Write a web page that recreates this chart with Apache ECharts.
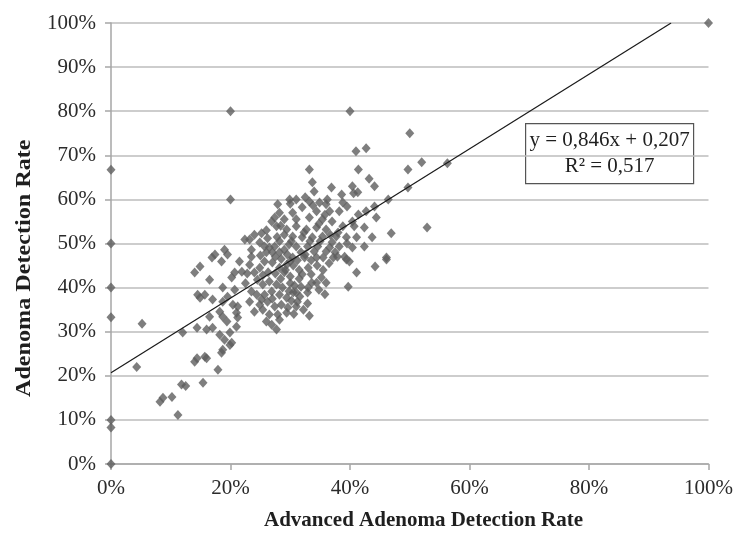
<!DOCTYPE html>
<html>
<head>
<meta charset="utf-8">
<title>ADR vs AADR</title>
<script src="https://cdn.jsdelivr.net/npm/echarts@6/dist/echarts.min.js"></script>
<style>
  html, body { margin: 0; background: #fff; }
  #chart { width: 736px; height: 545px; }
</style>
</head>
<body>
<div id="chart"></div>
<script>
// [advanced adenoma detection rate %, adenoma detection rate %]
const zeroColumn = [[0, 66.7], [0, 50], [0, 40], [0, 33.3], [0, 10], [0, 8.3], [0, 0]]

const outliers = [
  [20, 80], [40, 80], [20, 60], [100, 100], [50, 75], [5.2, 31.8], [4.3, 22],
  [56.3, 68.2], [52, 68.4], [49.7, 66.8], [49.7, 62.7], [52.9, 53.6]
]

const upperCluster = [
  [33.2, 66.8], [41.4, 66.8], [41, 70.9], [42.7, 71.6], [33.7, 63.9], [43.2, 64.7],
  [44.1, 63], [40.4, 63], [36.9, 62.7], [40.6, 61.4], [41.3, 61.6], [34, 61.8],
  [29.9, 60], [31, 60], [46.4, 60], [38.6, 61.1], [38.8, 59.3], [39.5, 58.4],
  [36.2, 60], [34.9, 59.3], [33.2, 59.5], [44.1, 58.4], [42.7, 57.3], [41.4, 56.6],
  [44.4, 55.9], [36, 58.9], [32, 58.2], [34.4, 57.3], [36.6, 57.3], [38.2, 57.3],
  [30.4, 57], [31, 55.5], [33.2, 55.9], [35.4, 55.5], [37, 55], [40.4, 55],
  [27.9, 58.9], [28.2, 57], [27.4, 55.9], [26.9, 55], [35.8, 56.5], [33.8, 58.6],
  [32.5, 60.5], [30, 59], [29, 55.5]
]

const midCluster = [
  [31, 53.9], [32.7, 53.2], [34.4, 53.6], [36, 53.2], [38.8, 53.9], [40.7, 53.9],
  [42.4, 53.6], [46.9, 52.3], [30.4, 51.6], [32, 51.4], [33.7, 51.4], [35.4, 51.6],
  [37.7, 51.6], [39.4, 51.4], [41.1, 51.4], [43.7, 51.4], [31, 49.3], [32.9, 49.3],
  [34.6, 49.3], [36.6, 49.1], [38.2, 49.3], [40.4, 49.1], [42.4, 49.3], [39.1, 47],
  [37.2, 46.8], [34.4, 46.8], [32.4, 46.8], [30.4, 46.8], [46.1, 46.8], [27.7, 53.9],
  [29.4, 53.2], [29, 52], [22.4, 50.9], [23.2, 50.9], [24.9, 50.2], [23.5, 48.6],
  [25.7, 49.3], [26.5, 49.1], [27.4, 49.3], [28.2, 50.5], [26, 48], [27, 48],
  [28.2, 48], [29, 48.6], [19, 48.6], [19.5, 47.5], [17.4, 47.5], [16.9, 46.8],
  [18.5, 45.9], [27.5, 47], [28.5, 46.5], [30, 46], [31.2, 46.2], [33.5, 46.2],
  [35.5, 46.8], [36, 48.2], [34, 48.2], [31.8, 48], [29.8, 49.8], [27.8, 51.5],
  [26.2, 51.2], [25.2, 52.3], [30.2, 50.5], [33.3, 50.5], [35, 50.5], [37, 50.3],
  [32.3, 52.5], [34.8, 54.5], [38, 52.5], [36.7, 52], [39.5, 50], [37.5, 48],
  [28.4, 54], [26, 53], [24, 52], [23.5, 47], [25, 47.3]
]

const rightCluster = [
  [46.1, 46.4], [44.2, 44.8], [41.1, 43.4], [39.9, 45.9], [39.4, 46.4], [37.9, 47],
  [36, 41.1], [34.4, 41.1], [33.6, 41.1], [35.2, 42.3], [39.7, 40.2], [32.9, 38.9],
  [31.6, 38], [31, 38.9], [31.2, 36.8], [32.9, 36.4], [31, 35.7], [33.2, 33.6],
  [30.5, 38.9], [30.7, 40.5], [32, 43], [29.5, 47.5], [30.5, 45], [31.5, 44],
  [33, 44.5], [34.5, 45], [35.5, 44], [36.5, 45.5], [30, 42.5], [31.5, 42],
  [33.5, 43], [29, 43.5], [32.5, 47.5], [29.2, 44], [28.4, 42], [30, 41],
  [31.8, 40.2], [33, 40], [34.8, 39.5], [35.8, 38.5], [29.8, 39.2], [30.2, 37],
  [32.2, 35], [30.6, 34]
]

const lowerCluster = [
  [14.9, 44.8], [14, 43.4], [16.5, 41.8], [20.2, 42.3], [20.7, 43.4], [21.9, 43.6],
  [21.5, 45.9], [23.2, 45.2], [24, 43.4], [24.9, 44.5], [25.7, 45.9], [27, 45.7],
  [28.2, 44.5], [29.4, 45.2], [24.5, 41.8], [25.4, 40.7], [26.5, 41.4], [27.7, 40.7],
  [28.7, 40], [23.5, 39.1], [24.4, 38.4], [25.7, 38.4], [26.9, 39.1], [28.2, 38.4],
  [29.4, 37.7], [23.2, 36.8], [24.9, 36.1], [26.2, 36.8], [27.4, 35.7], [28.5, 36.1],
  [29.6, 35.5], [24, 34.5], [25.4, 35], [26.5, 33.9], [27.9, 33.9], [29.4, 34.3],
  [26, 32.3], [26.9, 31.6], [28.2, 32.7], [27.7, 30.5], [14.5, 38.4], [14.9, 37.7],
  [15.7, 38.4], [17, 37.3], [18.7, 36.8], [19.5, 37.9], [18.7, 40], [20.7, 39.5],
  [20.4, 36.1], [21.2, 35.7], [16.5, 33.4], [18.2, 34.5], [18.7, 33.4], [19.4, 32.3],
  [21, 34.3], [21.2, 33.2], [12, 29.8], [14.4, 30.9], [16, 30.5], [17, 30.9],
  [18.2, 29.3], [19.9, 29.8], [21, 31.1], [19, 28.2], [20.2, 27.5], [27.5, 43.2],
  [26.3, 43.5], [25.4, 42.8], [27, 37.5], [25.2, 37.3], [22.5, 41], [22.8, 43.2]
]

const lowTail = [
  [14, 23.2], [14.4, 24], [15.7, 24.3], [16, 24], [17.9, 21.4], [18.5, 25.2],
  [18.7, 25.9], [19.9, 27], [11.8, 18], [12.5, 17.7], [15.4, 18.4], [8.2, 14.1],
  [8.7, 15], [10.2, 15.2], [11.2, 11.1]
]

const slope = 0.846
const intercept = 0.207
const rSquared = 0.517

const xTicks = [0, 20, 40, 60, 80, 100]

const points = [].concat(zeroColumn, outliers, upperCluster, midCluster, rightCluster, lowerCluster, lowTail)

// trend line runs from x = 0 until it reaches the top of the plot
const trendEndX = (1 - intercept) / slope * 100
const trendLine = [[0, intercept * 100], [trendEndX, 100]]

const fmt = (v, d) => v.toFixed(d).replace('.', ',')
const serif = '"Liberation Serif", "DejaVu Serif", serif'

function renderChart() {
  const chart = echarts.init(document.getElementById('chart'), null, { renderer: 'canvas' })
  const option = {
    backgroundColor: '#fff',
    animation: false,
    grid: { left: 111, right: 27, top: 23, bottom: 81 },
    xAxis: {
      type: 'value',
      min: 0,
      max: 100,
      interval: 20,
      axisLine: { lineStyle: { color: '#a6a6a6', width: 1.5 } },
      axisTick: { show: true, length: 6, lineStyle: { color: '#a6a6a6', width: 1.5 } },
      axisLabel: {
        formatter: (v) => (xTicks.includes(v) ? v + '%' : ''),
        color: '#2b2b2b',
        fontFamily: serif,
        fontSize: 21,
        margin: 14
      },
      splitLine: { show: false }
    },
    yAxis: {
      type: 'value',
      min: 0,
      max: 100,
      interval: 10,
      axisLine: { show: true, lineStyle: { color: '#a6a6a6', width: 1.5 } },
      axisTick: { show: true, length: 6, lineStyle: { color: '#a6a6a6', width: 1.5 } },
      axisLabel: {
        formatter: '{value}%',
        color: '#2b2b2b',
        fontFamily: serif,
        fontSize: 21,
        margin: 15
      },
      splitLine: { lineStyle: { color: '#bdbdbd', width: 1.5 } }
    },
    series: [
      {
        type: 'scatter',
        symbol: 'diamond',
        symbolSize: [9, 10],
        itemStyle: { color: '#5e5e5e' },
        data: points,
        z: 2
      },
      {
        type: 'line',
        data: trendLine,
        showSymbol: false,
        symbol: 'none',
        lineStyle: { color: '#1a1a1a', width: 1.2 },
        z: 3
      }
    ],
    graphic: [
      {
        type: 'text',
        left: 264,
        top: 510,
        style: {
          text: 'Advanced Adenoma Detection Rate',
          font: 'bold 21px ' + serif,
          fill: '#1f1f1f'
        }
      },
      {
        type: 'text',
        x: 14,
        y: 397,
        rotation: Math.PI / 2,
        scaleX: 1.15,
        style: {
          text: 'Adenoma Detection Rate',
          font: 'bold 21px ' + serif,
          fill: '#1f1f1f'
        }
      },
      {
        type: 'group',
        left: 525,
        top: 123,
        z: 10,
        children: [
          {
            type: 'rect',
            shape: { x: 0, y: 0, width: 168, height: 60 },
            style: { fill: '#fff', stroke: '#555', lineWidth: 1.2 }
          },
          {
            type: 'text',
            x: 84,
            y: 17,
            style: {
              text: 'y = ' + fmt(slope, 3) + 'x + ' + fmt(intercept, 3),
              font: '21px ' + serif,
              fill: '#1f1f1f',
              align: 'center',
              verticalAlign: 'middle'
            }
          },
          {
            type: 'text',
            x: 84,
            y: 43,
            style: {
              text: 'R² = ' + fmt(rSquared, 3),
              font: '21px ' + serif,
              fill: '#1f1f1f',
              align: 'center',
              verticalAlign: 'middle'
            }
          }
        ]
      }
    ]
  }
  chart.setOption(option)
}

renderChart()
</script>
</body>
</html>
